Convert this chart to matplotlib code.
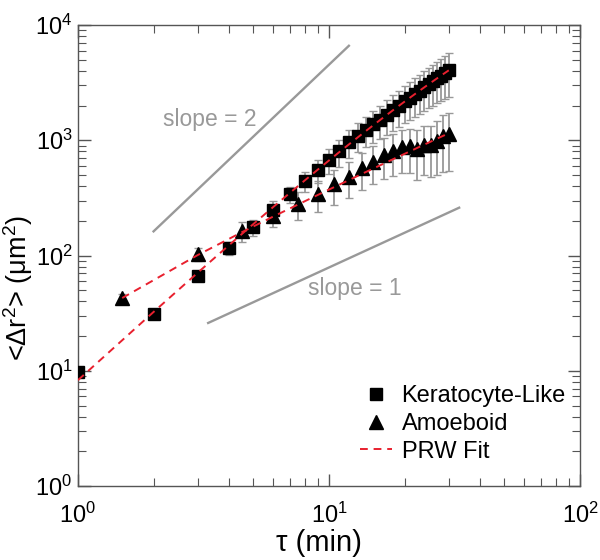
import numpy as np
import matplotlib
matplotlib.use("Agg")
import matplotlib.pyplot as plt
from matplotlib.ticker import LogLocator, NullFormatter

plt.rcParams['font.family'] = ['Liberation Sans', 'DejaVu Sans']
plt.rcParams['mathtext.fontset'] = 'custom'
plt.rcParams['mathtext.rm'] = 'Liberation Sans'
plt.rcParams['mathtext.it'] = 'Liberation Sans:italic'
plt.rcParams['mathtext.bf'] = 'Liberation Sans:bold'

# ---- data ----
kera_t = [1, 2, 3, 4, 5, 6, 7, 8, 9, 10, 11, 12, 13, 14, 15, 16, 17, 18, 19, 20,
          21, 22, 23, 24, 25, 26, 27, 28, 29, 30]
kera_msd = [9.7, 31.4, 67, 116, 177, 250, 340, 443, 548, 670, 800, 957, 1097, 1230,
            1370, 1510, 1670, 1830, 2000, 2170, 2340, 2520, 2700, 2880, 3070, 3260,
            3450, 3640, 3840, 4060]
kera_err = [0.8, 1.5, 7, 15, 28, 50, 55, 90, 125, 165, 210, 260, 310, 360, 420, 480,
            550, 620, 690, 760, 840, 920, 1000, 1080, 1170, 1260, 1350, 1450, 1560, 1700]
kera_fit = [8.3, 32.4, 71.0, 123.2, 187.9, 264.0, 350.8, 447.7, 553.7, 668.2, 790.6,
            920.4, 1056.9, 1199.6, 1348.1, 1502.0, 1660.9, 1824.5, 1992.2, 2163.8,
            2339.2, 2517.9, 2699.7, 2884.4, 3071.9, 3261.8, 3454.0, 3648.4, 3844.7, 4042.8]

amoe_t = [1.5, 3, 4.5, 6, 7.5, 9, 10.5, 12, 13.5, 15, 16.5, 18, 19.5, 21, 22.5, 24,
          25.5, 27, 28.5, 30]
amoe_msd = [42.4, 103, 164, 221, 280, 340, 415, 480, 571, 654, 750, 811, 870, 891, 834,
            915, 908, 985, 1089, 1140]
amoe_err = [4, 14, 33, 45, 75, 100, 140, 165, 200, 240, 290, 320, 350, 370, 385, 420,
            430, 490, 560, 600]
amoe_fit = [42.8, 101, 159.5, 218, 276, 334.5, 393, 451, 510, 568, 626, 685, 743, 801,
            860, 918, 976, 1035, 1093, 1151]

slope2_x = [2, 12]
slope2_y = [162, 6600]
slope1_x = [3.3, 33]
slope1_y = [26, 260]

# ---- figure ----
fig = plt.figure(figsize=(6, 5.6), dpi=100)
ax = fig.add_axes([0.13, 0.132, 0.8367, 0.8234])
ax.set_xscale('log')
ax.set_yscale('log')

guide_col = '#999999'
ax.plot(slope2_x, slope2_y, color=guide_col, lw=1.7, zorder=1)
ax.plot(slope1_x, slope1_y, color=guide_col, lw=1.7, zorder=1)
ax.text(3.36, 1500, 'slope = 2', color=guide_col, fontsize=16.5, ha='center', va='center')
ax.text(12.7, 52, 'slope = 1', color=guide_col, fontsize=16.5, ha='center', va='center')

ebkw = dict(fmt='none', ecolor='#999999', elinewidth=1.3, capsize=3, capthick=1.0, zorder=2)
eb1 = ax.errorbar(kera_t, kera_msd, yerr=kera_err, **ebkw)
eb2 = ax.errorbar(amoe_t, amoe_msd, yerr=amoe_err, **ebkw)
for eb in (eb1, eb2):
    for cap in eb[1]:
        cap.set_color('#444444')

ax.plot(kera_t, kera_msd, 's', color='black', ms=8.3, ls='none', zorder=3, label='Keratocyte-Like')
ax.plot(amoe_t, amoe_msd, '^', color='black', ms=10, ls='none', zorder=3, label='Amoeboid')
ax.plot(kera_t, kera_fit, '--', color='#e8202e', lw=1.4, dashes=(4, 3), zorder=4, label='PRW Fit')
ax.plot(amoe_t, amoe_fit, '--', color='#e8202e', lw=1.4, dashes=(4, 3), zorder=4)

ax.set_xlim(1, 100)
ax.set_ylim(1, 1e4)

ax.xaxis.set_major_locator(LogLocator(base=10, numticks=10))
ax.yaxis.set_major_locator(LogLocator(base=10, numticks=10))
ax.xaxis.set_minor_locator(LogLocator(base=10, subs=np.arange(2, 10), numticks=20))
ax.yaxis.set_minor_locator(LogLocator(base=10, subs=np.arange(2, 10), numticks=20))
ax.xaxis.set_minor_formatter(NullFormatter())
ax.yaxis.set_minor_formatter(NullFormatter())

ax.tick_params(which='both', direction='in', top=True, right=True, color='#555555')
ax.tick_params(which='major', length=9, width=1, labelsize=17)
ax.tick_params(axis='x', which='major', pad=12)
ax.tick_params(axis='y', which='major', pad=4)
ax.tick_params(which='minor', length=6, width=0.8)
for s in ax.spines.values():
    s.set_color('#555555')
    s.set_linewidth(1)

ax.set_xlabel(r'τ (min)', fontsize=21)
ax.set_ylabel(r'<Δr$^2$> (μm$^2$)', fontsize=19.5)
ax.xaxis.set_label_coords(0.48, -0.092)
ax.yaxis.set_label_coords(-0.086, 0.43)

leg = ax.legend(loc='lower right', frameon=False, fontsize=17, handlelength=1.36,
                handletextpad=0.42, labelspacing=0.25, borderaxespad=0.2,
                bbox_to_anchor=(1.0, 0.02))

fig.savefig('out.png', dpi=100)
